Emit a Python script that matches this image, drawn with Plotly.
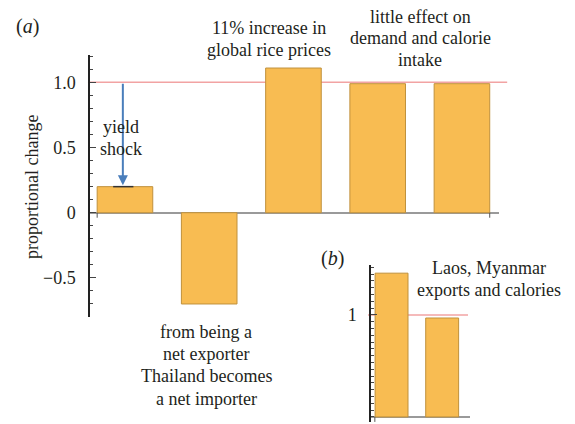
import plotly.graph_objects as go

# ---- data ----
cats_a = [0, 1, 2, 3, 4]
vals_a = [0.20, -0.70, 1.11, 0.99, 0.99]
cats_b = [0, 1]
vals_b = [1.41, 0.97]
ytick_a_vals = [-0.5, 0, 0.5, 1.0]
ytick_a_text = ["\u22120.5", "0", "0.5", "1.0"]
ytick_b_vals = [1]
ytick_b_text = ["1"]
baseline = 1.0
shock_from, shock_to = 1.0, 0.2

OFF = 8  # default page body margin
W, H = 575 - OFF, 424 - OFF
def px(x): return (x - OFF) / W
def py(y): return 1 - (y - OFF) / H

FONT = "Liberation Serif"
TXT = "#231F20"
BAR = "#F8BC52"
EDGE = "#C0913C"
RED = "#F2A3A3"
GRAY = "#9A9A9A"

fig = go.Figure()
fig.add_trace(go.Bar(x=cats_a, y=vals_a, width=0.66, marker=dict(color=BAR, line=dict(color=EDGE, width=1)),
                     xaxis="x", yaxis="y", showlegend=False, hoverinfo="skip"))
fig.add_trace(go.Bar(x=cats_b, y=vals_b, width=0.65, marker=dict(color=BAR, line=dict(color=EDGE, width=1)),
                     xaxis="x2", yaxis="y2", showlegend=False, hoverinfo="skip"))

common_y = dict(showline=True, linecolor="#222", linewidth=1.5, ticks="inside", tickcolor="#444",
                showgrid=False, zeroline=True, zerolinecolor=GRAY, zerolinewidth=1.5,
                tickfont=dict(family=FONT, size=18, color=TXT), ticklabelstandoff=9)

fig.update_layout(
    width=W, height=H, margin=dict(l=0, r=0, t=0, b=0),
    paper_bgcolor="white", plot_bgcolor="rgba(0,0,0,0)",
    font=dict(family=FONT, color=TXT),
    xaxis=dict(domain=[px(90), px(499)], range=[-0.415, 4.44], visible=False, anchor="y"),
    yaxis=dict(domain=[py(317), py(55)], range=[-0.8, 1.21], tickvals=ytick_a_vals, ticktext=ytick_a_text,
               ticklen=6, minor=dict(dtick=0.1, tick0=0, ticks="inside", ticklen=3, tickcolor="#444"),
               anchor="x", **common_y),
    xaxis2=dict(domain=[px(371), px(470)], range=[-0.406, 1.55], visible=False, anchor="y2"),
    yaxis2=dict(domain=[py(422), py(265)], range=[-0.05, 1.49], tickvals=ytick_b_vals, ticktext=ytick_b_text,
                ticklen=6, minor=dict(dtick=0.0667, tick0=0, ticks="inside", ticklen=3, tickcolor="#444"),
                anchor="x2", **common_y),
)

shapes = [
    dict(type="line", xref="x domain", yref="y", x0=-0.005, x1=1.02, y0=baseline, y1=baseline,
         line=dict(color=RED, width=1.5), layer="below"),
    dict(type="line", xref="x2 domain", yref="y2", x0=-0.03, x1=0.98, y0=baseline, y1=baseline,
         line=dict(color=RED, width=1.5), layer="below"),
    dict(type="line", xref="x", yref="y", x0=-0.14, x1=0.10, y0=shock_to, y1=shock_to,
         line=dict(color="#333", width=1.5)),
]
for xr, yr, xv in [("x", "y", -0.33), ("x", "y", 4.33), ("x2", "y2", -0.33)]:
    shapes.append(dict(type="line", xref=xr, yref=yr, ysizemode="pixel", yanchor=0, x0=xv, x1=xv,
                       y0=0, y1=-5, line=dict(color="#555", width=1)))
fig.update_layout(shapes=shapes)

fig.add_annotation(x=-0.025, y=shock_to + 0.01, ax=-0.025, ay=shock_from, xref="x", yref="y", axref="x", ayref="y",
                   showarrow=True, arrowhead=2, arrowsize=1, arrowwidth=2, arrowcolor="#4A7EBB", text="")

def txt(x, ys, lines, size=18):
    for y, t in zip(ys, lines):
        fig.add_annotation(x=px(x), y=py(y), xref="paper", yref="paper", text=t, showarrow=False,
                           xanchor="center", yanchor="middle", align="center", borderpad=0,
                           font=dict(family=FONT, size=size, color=TXT))

txt(27, [27], ["(<i>a</i>)"], 20)
txt(269, [28, 50], ["11% increase in", "global rice prices"])
txt(420, [17, 38, 60], ["little effect on", "demand and calorie", "intake"])
txt(121, [127, 149], ["yield", "shock"])
txt(206, [332, 354, 376, 399], ["from being a", "net exporter", "Thailand becomes", "a net importer"])
txt(332, [258], ["(<i>b</i>)"], 20)
txt(489, [268, 290], ["Laos, Myanmar", "exports and calories"])
fig.add_annotation(x=px(32), y=py(187), xref="paper", yref="paper", text="proportional change", textangle=-90,
                   showarrow=False, xanchor="center", yanchor="middle",
                   font=dict(family=FONT, size=18, color=TXT))

fig.write_html("out.html")
